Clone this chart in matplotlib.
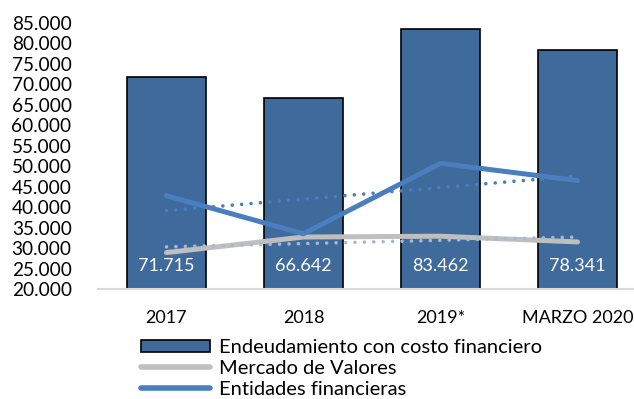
import numpy as np
import matplotlib.pyplot as plt
from matplotlib.patches import Patch
from matplotlib.lines import Line2D

plt.rcParams['font.family'] = ['Lato', 'DejaVu Sans']

# datos en miles
categorias = ['2017', '2018', '2019*', 'MARZO 2020']
endeudamiento = [71.715, 66.642, 83.462, 78.341]
mercado_valores = [28.9, 32.7, 32.9, 31.5]
entidades_fin = [42.8, 33.5, 50.7, 46.5]
yticks = np.arange(20, 86, 5)

c_bar = '#3E6A9C'
c_blue = '#4A7EBF'
c_gray = '#BFBFBF'
c_gray_trend = '#A9B8D2'

fig = plt.figure(figsize=(6.34, 3.99), dpi=100)
ax = fig.add_axes([98/634, 110/399, 548/634, 266/399])

x = np.arange(len(categorias))
ax.bar(x, endeudamiento, width=0.57, bottom=0, color=c_bar, edgecolor='black',
       linewidth=1.2, zorder=2)

for xi, v in zip(x, endeudamiento):
    ax.text(xi, 25.5, f'{v:.3f}', ha='center', va='center', color='white',
            fontsize=13, zorder=5)

ax.plot(x, mercado_valores, color=c_gray, lw=3.6, solid_capstyle='round',
        solid_joinstyle='round', zorder=3)
ax.plot(x, entidades_fin, color=c_blue, lw=3.6, solid_capstyle='round',
        solid_joinstyle='round', zorder=3)

# lineas de tendencia lineal
for serie, col in [(mercado_valores, c_gray_trend), (entidades_fin, c_blue)]:
    m, b = np.polyfit(x, serie, 1)
    ax.plot(x, m * x + b, color=col, lw=2.6, linestyle=(0, (0.01, 2.6)),
            dash_capstyle='round', zorder=4)

ax.set_xlim(-0.5, 3.5)
ax.set_ylim(20, 85)
ax.set_yticks(yticks)
ax.set_yticklabels([f'{v}.000' for v in yticks])
ax.set_xticks(x)
ax.set_xticklabels(categorias)
ax.tick_params(axis='both', length=0, labelsize=13)
ax.tick_params(axis='y', labelsize=13.7, pad=19)
ax.tick_params(axis='x', pad=15)
for s in ['top', 'right', 'left']:
    ax.spines[s].set_visible(False)
ax.spines['bottom'].set_color('#D9D9D9')
ax.spines['bottom'].set_linewidth(1.5)

handles = [Patch(facecolor=c_bar, edgecolor='black', linewidth=1.2),
           Line2D([], [], color=c_gray, lw=4, solid_capstyle='round'),
           Line2D([], [], color=c_blue, lw=4, solid_capstyle='round')]
labels = ['Endeudamiento con costo financiero', 'Mercado de Valores',
          'Entidades financieras']
fig.legend(handles, labels, loc='upper left', bbox_to_anchor=(141/634, 1 - 339/399),
           frameon=False, fontsize=14.5, handlelength=3.45, handletextpad=0.4,
           handleheight=0.6, labelspacing=0.2, borderpad=0, borderaxespad=0)

plt.savefig('out.png', dpi=100)
